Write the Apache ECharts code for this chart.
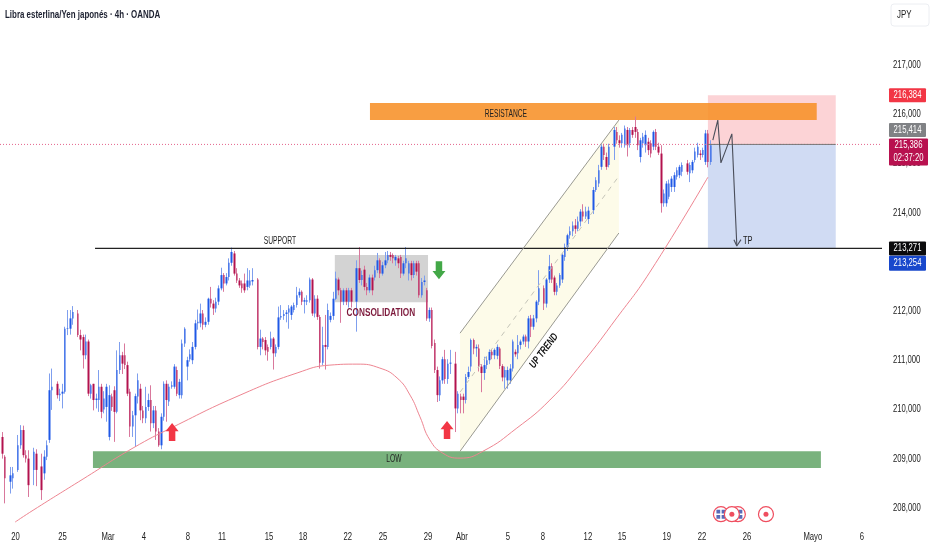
<!DOCTYPE html>
<html>
<head>
<meta charset="utf-8">
<script src="https://cdn.jsdelivr.net/npm/echarts@6/dist/echarts.min.js"></script>
<style>html,body{margin:0;padding:0;background:#fff}#c{width:932px;height:550px}</style>
</head>
<body>
<div id="c"></div>
<script>
const FONT = '"Liberation Sans",sans-serif';
const chartTitle = 'Libra esterlina/Yen japonés · 4h · OANDA';
const currency = 'JPY';

// candle slot numbers (one slot = one 4h bar)
const slots = [
1,2,4,5,7,8,9,10,11,13,
14,16,17,18,19,20,22,23,24,25,
26,27,28,30,31,32,33,34,35,36,
37,38,39,40,41,42,43,44,45,46,
47,48,49,50,51,52,53,54,55,56,
57,58,59,60,61,62,63,64,65,66,
67,68,69,70,71,72,73,74,75,76,
77,78,79,80,81,82,83,84,85,86,
87,88,89,90,91,92,93,94,95,96,
97,99,100,101,102,103,104,105,106,107,
108,109,110,111,112,113,114,115,116,117,
118,119,120,121,122,123,124,125,126,127,
128,129,130,131,132,133,134,135,137,138,
139,140,141,142,143,144,145,146,147,148,
149,150,151,152,153,154,155,156,157,158,
159,160,161,162,163,164,165,166,167,168,
169,170,171,172,173,175,176,177,178,179,
180,181,182,183,184,185,186,187,188,189,
190,191,192,193,194,195,196,197,198,199,
200,201,202,203,204,205,206,207,209,210,
211,212,213,214,215,216,217,218,219,220,
221,222,223,224,225,226,228,229,230,231,
232,233,234,236,237,238,239,240,241,242,
243,244,245,246,247,248,249,250,251,252,
253,254,255,256,257,258,259,260,261,262,
264,265,266,267,268,269,270,271,272,273];
const opens = [
209.42,209.02,208.51,208.58,208.75,209.25,209.56,209.05,208.98,208.75,
209.08,208.82,208.68,209.02,209.36,210.37,210.5,210.27,210.3,210.34,
211.62,211.62,211.83,211.93,211.49,211.45,211.08,211.36,210.3,210.5,
210.17,210.17,210.44,209.98,210.03,209.42,210.24,210.37,209.93,210.78,
211.08,211.08,210.88,210.34,209.63,209.86,210.24,210.4,209.96,209.8,
210.03,210.17,209.7,209.96,209.53,209.25,209.83,210.5,210.14,210.44,
210.44,210.78,210.27,210.27,211.32,210.85,211.0,210.98,211.25,211.73,
211.73,211.93,211.7,211.76,212.23,212.13,212.03,212.17,212.44,212.71,
212.54,212.67,212.96,213.15,212.74,212.6,212.54,212.54,212.47,212.5,
212.58,212.62,211.25,211.42,211.39,211.25,211.25,211.42,211.12,211.25,
211.85,211.88,211.92,211.95,211.9,212.0,212.1,212.3,212.37,212.17,
212.17,212.2,212.62,211.93,212.23,211.86,210.93,211.29,211.25,211.8,
211.88,212.23,212.62,212.4,212.17,212.4,212.17,212.4,212.17,212.85,
212.61,212.82,212.47,212.4,212.66,212.66,212.81,213.01,212.74,212.91,
213.01,213.12,213.12,213.01,213.05,213.08,212.74,212.95,212.74,212.95,
212.71,212.95,212.95,212.3,212.57,212.4,211.83,212.0,211.33,210.78,
210.27,210.57,211.0,210.6,210.91,210.91,210.0,210.24,210.24,210.17,
210.64,210.85,211.39,211.22,211.22,210.85,210.72,210.88,210.98,211.15,
211.08,211.07,211.22,210.86,210.63,210.57,210.57,210.81,211.15,211.12,
211.29,211.36,211.46,211.36,211.83,211.66,211.83,212.17,212.44,212.13,
212.62,212.89,212.66,212.37,212.5,212.62,213.08,213.28,213.52,213.6,
213.72,213.65,213.8,214.0,213.9,213.85,214.03,214.44,214.57,214.91,
215.32,215.11,214.95,215.32,215.62,215.45,215.39,215.35,215.66,215.39,
215.66,215.72,215.62,215.11,215.39,215.35,215.42,215.39,215.32,215.62,
215.32,215.18,214.17,214.17,214.3,214.5,214.5,214.71,214.74,214.81,
214.98,214.78,214.84,215.05,215.15,215.18,215.15,215.01,215.59,215.01];
const closes = [
209.08,208.58,208.64,208.68,209.25,209.56,209.05,208.98,208.44,209.12,
208.75,208.34,209.02,209.25,210.37,210.44,210.27,210.3,210.34,211.62,
211.63,211.83,211.96,211.49,211.4,211.08,211.36,210.3,210.47,210.17,
210.2,210.44,209.93,210.2,210.44,210.27,210.03,209.93,210.78,211.08,
210.91,210.88,210.3,209.63,209.86,210.25,210.57,209.96,209.8,210.03,
210.17,209.7,209.96,209.53,209.25,209.83,210.5,210.17,210.44,210.47,
210.85,210.3,210.54,211.32,211.62,210.98,211.1,211.25,211.73,211.76,
211.93,211.7,211.76,212.23,212.13,212.03,212.17,212.44,212.71,212.54,
212.67,212.96,213.18,212.74,212.6,212.5,212.44,212.4,212.6,212.6,
212.61,211.25,211.42,211.35,211.18,211.15,211.42,211.12,211.25,211.85,
211.88,211.92,211.95,212.03,212.07,212.1,212.3,212.37,212.17,212.2,
212.2,212.62,211.93,212.23,211.86,210.93,211.29,211.25,212.0,211.88,
212.23,212.64,212.4,212.17,212.4,212.17,212.4,212.17,212.85,212.61,
212.71,212.47,212.4,212.66,212.4,212.81,213.01,212.74,212.91,213.01,
213.12,213.08,213.05,213.08,212.95,212.74,212.95,213.05,212.95,212.71,
212.95,212.78,212.3,212.57,212.6,211.83,212.0,211.27,210.78,210.27,
210.57,211.0,210.6,210.91,210.93,210.0,210.3,210.17,210.17,210.64,
210.74,211.39,211.22,211.25,210.85,210.72,210.88,210.98,211.15,211.08,
211.19,211.25,210.86,210.63,210.78,210.78,210.81,211.36,211.1,211.29,
211.36,211.46,211.36,211.83,211.66,211.83,212.17,212.44,212.13,212.62,
212.89,212.62,212.37,212.5,212.71,213.12,213.28,213.52,213.6,213.72,
213.65,213.8,214.0,213.9,214.0,214.02,214.44,214.64,214.84,215.32,
215.15,214.91,215.32,215.66,215.45,215.39,215.56,215.69,215.35,215.66,
215.56,215.62,215.35,215.45,215.52,215.56,215.25,215.18,215.62,215.32,
215.2,214.17,214.37,214.57,214.57,214.67,214.74,214.84,214.91,214.95,
214.81,214.95,215.01,215.22,215.32,215.15,215.25,215.59,215.01,215.35];
const lows = [
208.98,208.07,208.27,208.37,208.71,209.18,209.0,208.9,208.2,208.44,
208.42,208.14,208.55,208.95,209.3,209.97,210.2,210.15,210.0,210.3,
211.49,211.5,211.7,211.45,211.18,210.81,211.0,210.25,210.2,209.96,
210.0,209.93,209.8,209.9,209.73,209.35,209.95,209.32,209.9,210.7,
210.7,210.8,210.25,209.42,209.42,209.22,210.1,209.76,209.7,209.7,
209.95,209.53,209.6,209.36,209.22,209.17,209.75,209.73,210.05,210.4,
210.4,210.25,210.2,210.2,211.25,210.57,210.95,210.9,211.2,211.6,
211.65,211.6,211.65,211.7,212.05,211.9,211.95,212.1,212.4,212.37,
212.5,212.6,212.9,212.7,212.55,212.45,212.35,212.35,212.4,212.45,
212.5,211.2,211.08,211.2,211.08,210.97,211.2,210.79,211.05,211.2,
211.8,211.8,211.75,211.62,211.8,211.95,212.05,212.25,212.1,211.93,
212.1,212.15,211.88,211.85,211.8,210.81,210.88,210.79,211.2,211.75,
211.8,212.2,212.3,211.74,212.1,212.1,212.05,212.05,211.56,212.55,
212.5,212.4,212.3,212.35,212.3,212.6,212.75,212.65,212.7,212.85,
212.95,213.0,212.95,212.9,212.85,212.65,212.7,212.85,212.6,212.6,
212.65,212.7,212.25,212.25,212.5,211.78,211.76,211.22,210.72,210.13,
210.15,210.5,210.5,210.5,210.7,209.52,209.9,209.9,209.9,210.1,
210.6,210.75,211.1,211.05,210.75,210.33,210.58,210.8,210.9,211.0,
211.0,211.0,210.8,210.55,210.4,210.4,210.5,210.75,211.05,211.0,
211.2,211.3,211.25,211.22,211.45,211.6,211.75,212.1,212.0,212.05,
212.55,212.55,212.3,212.3,212.45,212.55,213.0,213.2,213.45,213.5,
213.55,213.6,213.7,213.8,213.85,213.75,213.95,214.4,214.5,214.85,
215.05,214.85,214.9,215.05,215.38,215.3,215.3,215.3,215.12,215.3,
215.5,215.5,215.25,215.0,215.3,215.2,215.15,215.1,215.25,215.25,
215.15,213.98,214.1,214.1,214.25,214.4,214.4,214.65,214.68,214.72,
214.75,214.6,214.78,215.0,215.1,215.05,215.1,214.95,214.9,214.95];
const highs = [
209.52,209.05,208.81,208.81,209.46,209.66,209.65,209.15,209.15,209.2,
209.17,209.08,209.15,209.35,210.71,210.81,210.55,210.4,210.5,211.66,
212.0,212.0,212.08,212.0,211.6,211.5,211.5,211.4,210.5,210.5,
210.3,210.78,210.5,210.35,210.5,210.47,210.3,210.45,211.18,211.35,
211.15,211.32,210.95,210.4,209.95,210.3,210.71,210.5,210.05,210.44,
210.3,210.47,210.05,210.05,209.6,209.9,210.55,210.57,210.5,210.55,
210.9,210.85,210.6,211.4,211.65,211.05,211.2,211.35,211.8,212.01,
212.13,212.0,211.85,212.25,212.47,212.2,212.25,212.5,212.86,212.75,
212.75,213.05,213.27,213.2,212.85,212.65,212.6,212.74,212.85,212.81,
212.85,212.65,211.6,211.45,211.45,211.3,211.56,211.45,211.3,212.07,
212.1,212.0,212.0,212.1,212.1,212.15,212.47,212.44,212.4,212.25,
212.3,212.66,212.65,212.3,212.3,211.9,211.66,211.9,212.13,211.95,
212.37,212.78,212.66,212.45,212.44,212.45,212.45,212.45,213.01,213.28,
212.8,212.9,212.55,212.72,212.72,212.9,213.16,213.05,212.98,213.18,
213.2,213.18,213.15,213.12,213.1,213.12,213.0,213.28,213.0,213.0,
213.0,213.0,213.0,212.65,212.7,212.45,212.05,212.05,211.4,210.85,
210.65,211.05,211.19,211.0,211.19,211.15,210.35,210.3,210.3,210.7,
210.85,211.42,211.42,211.3,211.3,210.9,211.05,211.05,211.2,211.2,
211.22,211.3,211.25,210.9,210.85,210.85,210.9,211.4,211.2,211.49,
211.4,211.5,211.5,211.88,211.9,211.9,212.2,212.81,212.5,212.65,
213.12,212.95,212.7,212.55,212.75,213.15,213.35,213.55,213.7,213.8,
213.85,213.9,214.05,214.15,214.1,214.1,214.5,214.7,214.95,215.37,
215.38,215.2,215.38,215.72,215.72,215.55,215.6,215.75,215.72,215.7,
215.72,215.93,215.68,215.5,215.6,215.65,215.5,215.45,215.65,215.68,
215.4,215.35,214.45,214.62,214.65,214.72,214.8,214.9,214.95,215.0,
215.05,215.0,215.05,215.3,215.4,215.25,215.3,215.66,215.66,215.45];

const xTickSlots = [6,24,41.5,55.3,72.2,85.3,103.3,116.4,133.6,147.1,164.4,177.4,195.1,208.5,225.8,238.9,256.1,269.6,286.9,312.2,331];
const xTickLabels = ['20','25','Mar','4','8','11','15','18','22','25','29','Abr','5','8','12','15','19','22','26','Mayo','6'];
const yTicks = [208,209,210,211,212,213,214,215,216,217];
const yTickLabels = ['208,000','209,000','210,000','211,000','212,000','213,000','214,000','215,000','216,000','217,000'];

const curveSlots = [5.8,12.7,31.9,51.1,66.4,92.2,114.1,126.7,137.1,145.9,152.5,157.5,161.3,165.1,170.1,176.7,185.5,198.5,211.2,223.9,236.9,249.6,271.9];
const curvePrices = [207.71,207.95,208.585,209.215,209.64,210.29,210.74,210.90,210.92,210.84,210.64,210.29,209.85,209.38,209.11,209.01,209.15,209.62,210.19,210.96,211.86,212.79,214.72];

const supportPrice = 213.271;
const lastPrice = 215.386;
const supportSpan = [36.5,341.4];
const priceLineSpan = [0,341.4];
const positionSpan = [271.9,321];
const stopPrice = 216.384;
const targetPrice = 213.271;
const resistanceBand = [142.1,313.7,216.23,215.88];
const lowBand = [35.7,315.3,209.15,208.81];
const consolidationBox = [128.6,164.4,213.14,212.18];
const channelSlots = [176.7,237.7];
const channelUpper = [211.55,215.88];
const channelLower = [209.15,213.585];
const channelMiddle = [210.35,214.74];
const pathSlots = [273.8,275.7,276.9,281.1,283];
const pathPrices = [215.475,215.88,215.01,215.60,213.34];
const headSlots = [281.9,283,284.6];
const headPrices = [213.45,213.32,213.45];

const upArrows = [[66.1,209.54],[171.7,209.58]];
const downArrows = [[168.6,212.83]];
const noteLabels = ['SUPPORT','RESISTANCE','CONSOLIDATION','LOW','TP','UP TREND'];
const noteSlots = [107.5,194.3,146.3,151.3,287.2,208.9];
const notePrices = [213.42,216.0,211.96,208.99,213.42,211.19];
const eventBack = [[276.9,207.87],[283.4,207.87]];
const eventFront = [[281.1,207.87],[294.2,207.87]];

const tagValues = [216.384,215.414,215.386,213.271,213.254];
const tagTexts = ['216,384','215,414','215,386\n02:37:20','213,271','213,254'];
const tagColors = ['#f23645','#808285','#b8114f','#0b0b0d','#1848cc'];
const tagShift = [0,-13,7.5,0,14];
const tagHeight = [14,14,27,14,15];
const tagWidth = [37,37,39,37,37];

// the prices above were read one pixel low against the axis, so the candles are lifted by that pixel
const readingOffset = 0.02;
const UP='#1f58e6', DOWN='#b3124e', UPW='#7f9fee', DOWNW='#d9789c';
const candleFull = slots.map((s,i)=>[s,opens[i]+readingOffset,closes[i]+readingOffset,lows[i]+readingOffset,highs[i]+readingOffset]);
const candleBody = slots.map((s,i)=>{const o=opens[i]+readingOffset,c=closes[i]+readingOffset;return [s,o,c,Math.min(o,c),Math.max(o,c)];});
const zip=(a,b)=>a.map((v,i)=>[v,b[i]]);
const rectRows=[
 [consolidationBox,'#d3d3d3'],
 [lowBand,'#79b27d'],
 [[positionSpan[0],positionSpan[1],stopPrice,lastPrice],'rgba(242,54,69,0.22)'],
 [[positionSpan[0],positionSpan[1],lastPrice,targetPrice],'rgba(41,90,200,0.22)'],
 [resistanceBand,'rgba(247,145,40,0.88)']
];
const ARROW='path://M50 0L100 46L75 46L75 100L25 100L25 46L0 46Z';
const lineSeries=(name,data,color,width,extra)=>Object.assign({type:'line',name,data,symbol:'none',z:4,clip:false,silent:true,
  lineStyle:{color,width},animation:false},extra||{});
// condensed text placed through the axes' scales
const textSeries=(name,xs,ys,texts,z,style)=>({type:'custom',name,z,silent:true,clip:false,
  data:texts.map((t,i)=>[xs[i],ys[i],i]),encode:{x:0,y:1},
  renderItem:(p,api)=>{const i=api.value(2);const c=api.coord([xs[i],ys[i]]);const s=style(i);
    return {type:'text',x:c[0]+(s.dx||0),y:c[1]+(s.dy||0),scaleX:s.sx||0.7,rotation:s.rot||0,
      style:{x:0,y:0,text:texts[i],align:s.align||'center',verticalAlign:'middle',fill:s.fill||'#222',
      font:(s.weight||'')+' '+(s.size||11)+'px '+FONT}};}});

const chart=echarts.init(document.getElementById('c'));
chart.setOption({
 animation:false,
 backgroundColor:'#ffffff',
 grid:{left:0,right:52,top:15.8,bottom:29.9},
 xAxis:{type:'value',min:0,max:338,containShape:false,splitLine:{show:false},axisLine:{show:false},axisTick:{show:false},axisLabel:{show:false}},
 yAxis:{type:'value',position:'right',min:207.75,max:218,containShape:false,splitLine:{show:false},axisLine:{show:false},axisTick:{show:false},axisLabel:{show:false}},
 graphic:[
  {type:'text',x:5,y:15,scaleX:0.69,style:{x:0,y:0,text:chartTitle,verticalAlign:'middle',font:'bold 11.5px '+FONT,fill:'#1c2030'}},
  {type:'group',x:891,y:4,children:[
   {type:'rect',shape:{x:0,y:0,width:38,height:22,r:3},style:{fill:'#fff',stroke:'#eceef2',lineWidth:1}},
   {type:'text',x:6,y:11,scaleX:0.72,style:{x:0,y:0,text:currency,verticalAlign:'middle',font:'11px '+FONT,fill:'#222'}}]}],
 series:[
  {type:'custom',name:'channel',z:1,silent:true,clip:false,data:[[channelSlots[0],channelUpper[0]]],encode:{x:0,y:1},
   renderItem:(p,api)=>({type:'polygon',shape:{points:[
     api.coord([channelSlots[0],channelUpper[0]]),api.coord([channelSlots[1],channelUpper[1]]),
     api.coord([channelSlots[1],channelLower[1]]),api.coord([channelSlots[0],channelLower[0]])]},
     style:{fill:'#fdfbe9'}})},
  {type:'custom',name:'zones',z:1,silent:true,clip:false,data:rectRows.map((r,i)=>[r[0][0],r[0][2],i]),encode:{x:0,y:1},
   renderItem:(p,api)=>{const r=rectRows[api.value(2)];const a=api.coord([r[0][0],r[0][2]]),b=api.coord([r[0][1],r[0][3]]);
     return {type:'rect',shape:{x:a[0],y:a[1],width:b[0]-a[0],height:b[1]-a[1]},style:{fill:r[1]}};}},
  {type:'candlestick',name:'wicks',data:candleFull,encode:{x:0,y:[1,2,3,4]},barWidth:0.5,z:3,silent:true,
   itemStyle:{color:UPW,color0:DOWNW,borderColor:UPW,borderColor0:DOWNW,borderWidth:1}},
  {type:'candlestick',name:'bodies',data:candleBody,encode:{x:0,y:[1,2,3,4]},barWidth:2,z:3,silent:true,
   itemStyle:{color:UP,color0:DOWN,borderColor:UP,borderColor0:DOWN,borderWidth:0}},
  lineSeries('priceLine',zip(priceLineSpan,[lastPrice,lastPrice]),'#e4648c',1,{lineStyle:{color:'#e4648c',width:1,type:[1,2]}}),
  lineSeries('entry',zip(positionSpan,[lastPrice,lastPrice]),'#777',1),
  lineSeries('support',zip(supportSpan,[supportPrice,supportPrice]),'#222',1.2),
  lineSeries('curve',zip(curveSlots,curvePrices),'#ee8591',1,{smooth:0.5}),
  lineSeries('chUp',zip(channelSlots,channelUpper),'#9a9a92',1),
  lineSeries('chLow',zip(channelSlots,channelLower),'#9a9a92',1),
  lineSeries('chMid',zip(channelSlots,channelMiddle),'#c4c4b8',1,{lineStyle:{color:'#c4c4b8',width:1,type:[5,5]}}),
  lineSeries('path',zip(pathSlots,pathPrices),'#4a4e5a',1.1),
  lineSeries('head',zip(headSlots,headPrices),'#4a4e5a',1.1),
  {type:'scatter',name:'upArrows',data:upArrows,symbol:ARROW,symbolSize:[13,18],z:5,silent:true,itemStyle:{color:'#f23645',opacity:1}},
  {type:'scatter',name:'downArrows',data:downArrows,symbol:ARROW,symbolRotate:180,symbolSize:[13,18],z:5,silent:true,itemStyle:{color:'#43a847',opacity:1}},
  {type:'scatter',name:'eventBack',data:eventBack,symbolSize:15,z:5,silent:true,itemStyle:{color:'#fff',borderColor:'#ef4e5f',borderWidth:1.2,opacity:1}},
  {type:'scatter',name:'eventFlagBlue',data:eventBack,symbol:'path://M0 0H42V42H0ZM58 0H100V42H58ZM0 58H42V100H0ZM58 58H100V100H58Z',symbolSize:9,z:5,silent:true,itemStyle:{color:'#5a6bb8',opacity:1}},
  {type:'scatter',name:'eventFront',data:eventFront,symbolSize:15,z:6,silent:true,itemStyle:{color:'#fff',borderColor:'#ef4e5f',borderWidth:1.2,opacity:1}},
  {type:'scatter',name:'eventDot',data:eventFront,symbolSize:5,z:6,silent:true,itemStyle:{color:'#ef4e5f',opacity:1}},
  textSeries('notes',noteSlots,notePrices,noteLabels,7,i=>{
    const t=noteLabels[i];
    if(t==='UP TREND')return {rot:53*Math.PI/180,sx:0.75,weight:'italic bold',fill:'#111',size:10.5};
    if(t==='CONSOLIDATION')return {sx:0.75,weight:'bold',fill:'#7d1a3c',size:11};
    if(t==='TP')return {sx:0.68,size:11};
    return {sx:0.67,size:10};}),
  textSeries('yLabels',yTicks.map(()=>338),yTicks,yTickLabels,2,()=>({align:'left',dx:13})),
  textSeries('xLabels',xTickSlots,xTickSlots.map(()=>207.75),xTickLabels,2,()=>({dy:16.5})),
  {type:'custom',name:'priceTags',z:8,silent:true,clip:false,data:tagValues.map((v,i)=>[338,v,i]),encode:{x:0,y:1},
   renderItem:(p,api)=>{const i=api.value(2);const c=api.coord([338,tagValues[i]]);const cy=c[1]+tagShift[i];
     return {type:'group',children:[
      {type:'rect',z2:1,shape:{x:889,y:cy-tagHeight[i]/2,width:tagWidth[i],height:tagHeight[i],r:1},style:{fill:tagColors[i]}},
      {type:'text',z2:2,x:889+tagWidth[i]/2,y:cy,scaleX:0.7,style:{x:0,y:0,text:tagTexts[i],align:'center',verticalAlign:'middle',fill:'#fff',font:'11px '+FONT,lineHeight:13}}]};}}
 ]
});
</script>
</body>
</html>
